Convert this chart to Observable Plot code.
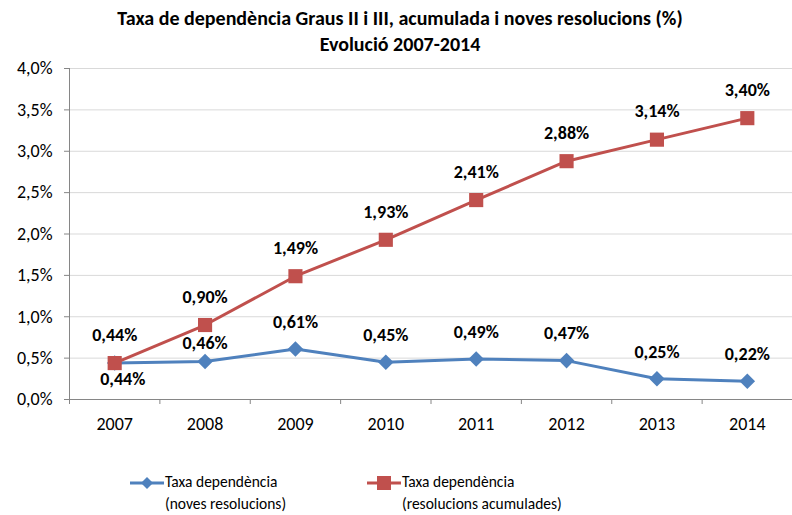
<!DOCTYPE html>
<html>
<head>
<meta charset="utf-8">
<script src="https://cdn.jsdelivr.net/npm/d3@7"></script>
<script src="https://cdn.jsdelivr.net/npm/@observablehq/plot@0.6"></script>
<style>
  body { margin: 0; background: #fff; font-family: Carlito, "Liberation Sans Narrow", Lato, sans-serif; }
  #wrap { width: 792px; height: 515px; position: relative; }
  .title { position: absolute; left: 0; width: 800px; text-align: center; font-weight: bold; font-size: 20px; color: #000; }
  .leg { position: absolute; font-size: 15.5px; line-height: 22px; color: #000; }
  .leg svg { position: absolute; left: -35px; top: 2px; }
  #chart g[aria-label="y-axis tick label"], #chart g[aria-label="x-axis tick label"] { font-size: 18px; }
</style>
</head>
<body>
<div id="wrap">
  <div class="title" style="top:6px">Taxa de dependència Graus II i III, acumulada i noves resolucions (%)</div>
  <div class="title" style="top:32px">Evolució 2007-2014</div>
  <div id="chart" style="position:absolute; left:0; top:58px;"></div>
  <div class="leg" style="left:165px; top:471px;">
    <svg width="34" height="20"><line x1="0" y1="10" x2="34" y2="10" stroke="#4f81bd" stroke-width="3"/><path d="M17,4 L23,10 L17,16 L11,10 Z" fill="#4f81bd"/></svg>
    Taxa dependència<br>(noves resolucions)
  </div>
  <div class="leg" style="left:402px; top:471px;">
    <svg width="34" height="20"><line x1="0" y1="10" x2="34" y2="10" stroke="#c0504d" stroke-width="3"/><rect x="10" y="3" width="14" height="14" fill="#c0504d"/></svg>
    Taxa dependència<br>(resolucions acumulades)
  </div>
</div>
<script>
const years = [2007, 2008, 2009, 2010, 2011, 2012, 2013, 2014];
const noves = [0.44, 0.46, 0.61, 0.45, 0.49, 0.47, 0.25, 0.22];
const acumulades = [0.44, 0.90, 1.49, 1.93, 2.41, 2.88, 3.14, 3.40];
const yTicks = [0, 0.5, 1.0, 1.5, 2.0, 2.5, 3.0, 3.5, 4.0];

const blue = "#4f81bd", red = "#c0504d";
const nData = years.map((y, i) => ({year: y, v: noves[i]}));
const aData = years.map((y, i) => ({year: y, v: acumulades[i]}));
const bounds = years.map(y => y - 0.5).concat([years[years.length - 1] + 0.5]);
const fmt = v => v.toFixed(2).replace(".", ",") + "%";
const font = 'Carlito, "Liberation Sans Narrow", Lato, sans-serif';

const chart = Plot.plot({
  width: 792,
  height: 400,
  marginLeft: 69,
  marginRight: 0,
  marginTop: 10,
  marginBottom: 59,
  style: {fontFamily: font, fontSize: "18px", color: "#000", overflow: "visible"},
  x: {domain: [2006.5, 2014.5]},
  y: {domain: [0, 4.0]},
  marks: [
    Plot.gridY(yTicks, {stroke: "#d9d9d9", strokeOpacity: 1, strokeWidth: 1}),
    Plot.axisY({ticks: yTicks, tickSize: 5, tickPadding: 12, stroke: "#868686", tickFormat: d => d.toFixed(1).replace(".", ",") + "%", label: null}),
    Plot.ruleX([2006.5], {stroke: "#868686"}),
    Plot.ruleY([0], {stroke: "#868686"}),
    Plot.axisX({ticks: bounds, tickSize: 5, stroke: "#868686", tickFormat: () => "", label: null}),
    Plot.axisX({ticks: years, tickSize: 0, tickPadding: 18, tickFormat: d => String(d), label: null}),
    Plot.line(nData, {x: "year", y: "v", stroke: blue, strokeWidth: 3}),
    Plot.line(aData, {x: "year", y: "v", stroke: red, strokeWidth: 3}),
    Plot.dot(nData, {x: "year", y: "v", symbol: "diamond2", r: 7, fill: blue, stroke: "none"}),
    Plot.dot(aData, {x: "year", y: "v", symbol: "square2", r: 9, fill: red, stroke: "none"}),
    Plot.text(aData, {x: "year", y: "v", text: d => fmt(d.v), dy: -28, fontWeight: "bold", fontSize: 18}),
    Plot.text(nData.filter(d => d.year === 2007), {x: "year", y: "v", text: d => fmt(d.v), dy: 16, dx: 8, fontWeight: "bold", fontSize: 18}),
    Plot.text(nData.filter(d => d.year === 2008), {x: "year", y: "v", text: d => fmt(d.v), dy: -18, fontWeight: "bold", fontSize: 18}),
    Plot.text(nData.filter(d => d.year > 2008), {x: "year", y: "v", text: d => fmt(d.v), dy: -27, fontWeight: "bold", fontSize: 18})
  ]
});
document.getElementById("chart").appendChild(chart);
</script>
</body>
</html>
